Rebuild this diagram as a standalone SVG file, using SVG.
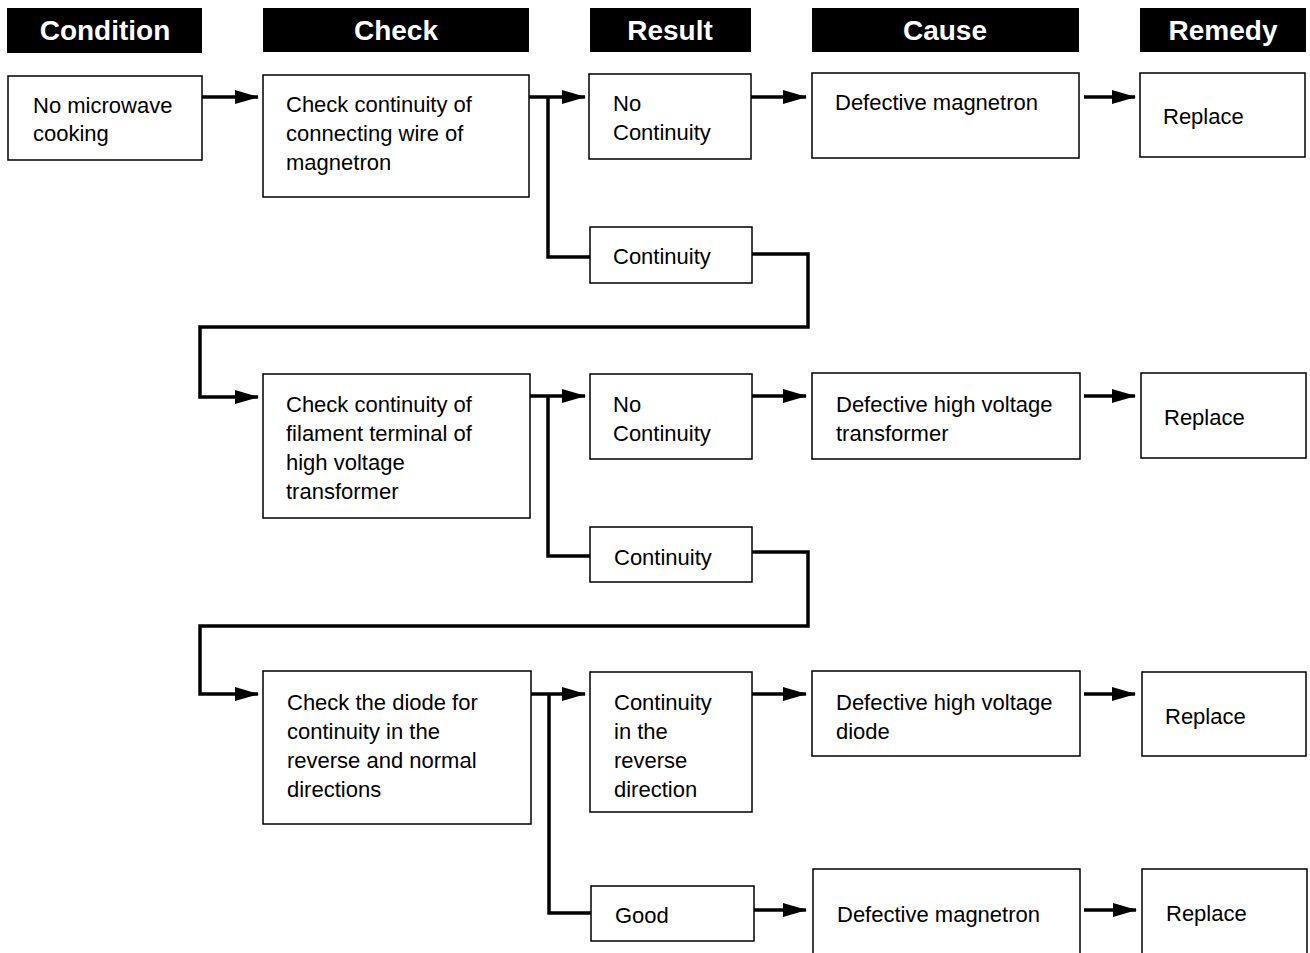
<svg xmlns="http://www.w3.org/2000/svg" width="1310" height="953" viewBox="0 0 1310 953">
<style>
.hdr{fill:#000}
.ht{fill:#fff;font-family:"Liberation Sans",Arial,sans-serif;font-weight:bold;font-size:28px;text-anchor:middle}
.box{fill:#fff;stroke:#000;stroke-width:1.5}
.t{fill:#000;font-family:"Liberation Sans",Arial,sans-serif;font-size:22px}
.c{fill:none;stroke:#000;stroke-width:3.5;stroke-linejoin:miter}
</style>
<defs>
<marker id="ah" viewBox="0 0 24 14" refX="23" refY="7" markerWidth="24" markerHeight="14" markerUnits="userSpaceOnUse" orient="auto">
<path d="M0,0 L24,7 L0,14 z" fill="#000"/>
</marker>
</defs>
<rect width="1310" height="953" fill="#fff"/>
<g id="headers">
<g id="h-condition"><rect class="hdr" x="7" y="8" width="195" height="45"/><text class="ht" x="105" y="40">Condition</text></g>
<g id="h-check"><rect class="hdr" x="263" y="8" width="266" height="44"/><text class="ht" x="396" y="40">Check</text></g>
<g id="h-result"><rect class="hdr" x="590" y="8" width="161" height="44"/><text class="ht" x="670" y="40">Result</text></g>
<g id="h-cause"><rect class="hdr" x="812" y="8" width="267" height="44"/><text class="ht" x="945" y="40">Cause</text></g>
<g id="h-remedy"><rect class="hdr" x="1140" y="8" width="166" height="44"/><text class="ht" x="1223" y="40">Remedy</text></g>
</g>
<g id="connectors">
<path class="c" d="M202,97 H258" marker-end="url(#ah)"/>
<path class="c" d="M529,97 H585" marker-end="url(#ah)"/>
<path class="c" d="M548,97 V257 H590"/>
<path class="c" d="M751,97 H806" marker-end="url(#ah)"/>
<path class="c" d="M1084,97 H1135" marker-end="url(#ah)"/>
<path class="c" d="M752,254 H808 V327 H200 V397 H258" marker-end="url(#ah)"/>
<path class="c" d="M530,396 H585" marker-end="url(#ah)"/>
<path class="c" d="M548,396 V556 H590"/>
<path class="c" d="M752,396 H806" marker-end="url(#ah)"/>
<path class="c" d="M1084,396 H1135" marker-end="url(#ah)"/>
<path class="c" d="M752,552 H808 V626 H200 V694 H258" marker-end="url(#ah)"/>
<path class="c" d="M531,694 H585" marker-end="url(#ah)"/>
<path class="c" d="M549,694 V913 H591"/>
<path class="c" d="M752,694 H806" marker-end="url(#ah)"/>
<path class="c" d="M1084,694 H1135" marker-end="url(#ah)"/>
<path class="c" d="M754,910 H806" marker-end="url(#ah)"/>
<path class="c" d="M1084,910 H1136" marker-end="url(#ah)"/>
</g>
<g id="n-condition"><rect class="box" x="8" y="76" width="194" height="84"/><text class="t" x="33" y="113">No microwave</text><text class="t" x="33" y="141">cooking</text></g>
<g id="n-check1"><rect class="box" x="263" y="75" width="266" height="122"/><text class="t" x="286" y="112">Check continuity of</text><text class="t" x="286" y="141">connecting wire of</text><text class="t" x="286" y="170">magnetron</text></g>
<g id="n-nocont1"><rect class="box" x="589" y="74" width="162" height="85"/><text class="t" x="613" y="111">No</text><text class="t" x="613" y="140">Continuity</text></g>
<g id="n-cause1"><rect class="box" x="812" y="73" width="267" height="85"/><text class="t" x="835" y="110">Defective magnetron</text></g>
<g id="n-replace1"><rect class="box" x="1140" y="73" width="165" height="84"/><text class="t" x="1163" y="124">Replace</text></g>
<g id="n-cont1"><rect class="box" x="590" y="227" width="162" height="56"/><text class="t" x="613" y="264">Continuity</text></g>
<g id="n-check2"><rect class="box" x="263" y="374" width="267" height="144"/><text class="t" x="286" y="412">Check continuity of</text><text class="t" x="286" y="441">filament terminal of</text><text class="t" x="286" y="470">high voltage</text><text class="t" x="286" y="499">transformer</text></g>
<g id="n-nocont2"><rect class="box" x="590" y="374" width="162" height="85"/><text class="t" x="613" y="412">No</text><text class="t" x="613" y="441">Continuity</text></g>
<g id="n-cause2"><rect class="box" x="812" y="373" width="268" height="86"/><text class="t" x="836" y="412">Defective high voltage</text><text class="t" x="836" y="441">transformer</text></g>
<g id="n-replace2"><rect class="box" x="1141" y="373" width="165" height="85"/><text class="t" x="1164" y="425">Replace</text></g>
<g id="n-cont2"><rect class="box" x="590" y="527" width="162" height="55"/><text class="t" x="614" y="565">Continuity</text></g>
<g id="n-check3"><rect class="box" x="263" y="671" width="268" height="153"/><text class="t" x="287" y="710">Check the diode for</text><text class="t" x="287" y="739">continuity in the</text><text class="t" x="287" y="768">reverse and normal</text><text class="t" x="287" y="797">directions</text></g>
<g id="n-reverse"><rect class="box" x="590" y="672" width="162" height="140"/><text class="t" x="614" y="710">Continuity</text><text class="t" x="614" y="739">in the</text><text class="t" x="614" y="768">reverse</text><text class="t" x="614" y="797">direction</text></g>
<g id="n-cause3"><rect class="box" x="812" y="671" width="268" height="85"/><text class="t" x="836" y="710">Defective high voltage</text><text class="t" x="836" y="739">diode</text></g>
<g id="n-replace3"><rect class="box" x="1142" y="672" width="164" height="84"/><text class="t" x="1165" y="724">Replace</text></g>
<g id="n-good"><rect class="box" x="591" y="886" width="163" height="55"/><text class="t" x="615" y="923">Good</text></g>
<g id="n-cause4"><rect class="box" x="813" y="869" width="267" height="110"/><text class="t" x="837" y="922">Defective magnetron</text></g>
<g id="n-replace4"><rect class="box" x="1142" y="869" width="165" height="110"/><text class="t" x="1166" y="921">Replace</text></g>
</svg>
